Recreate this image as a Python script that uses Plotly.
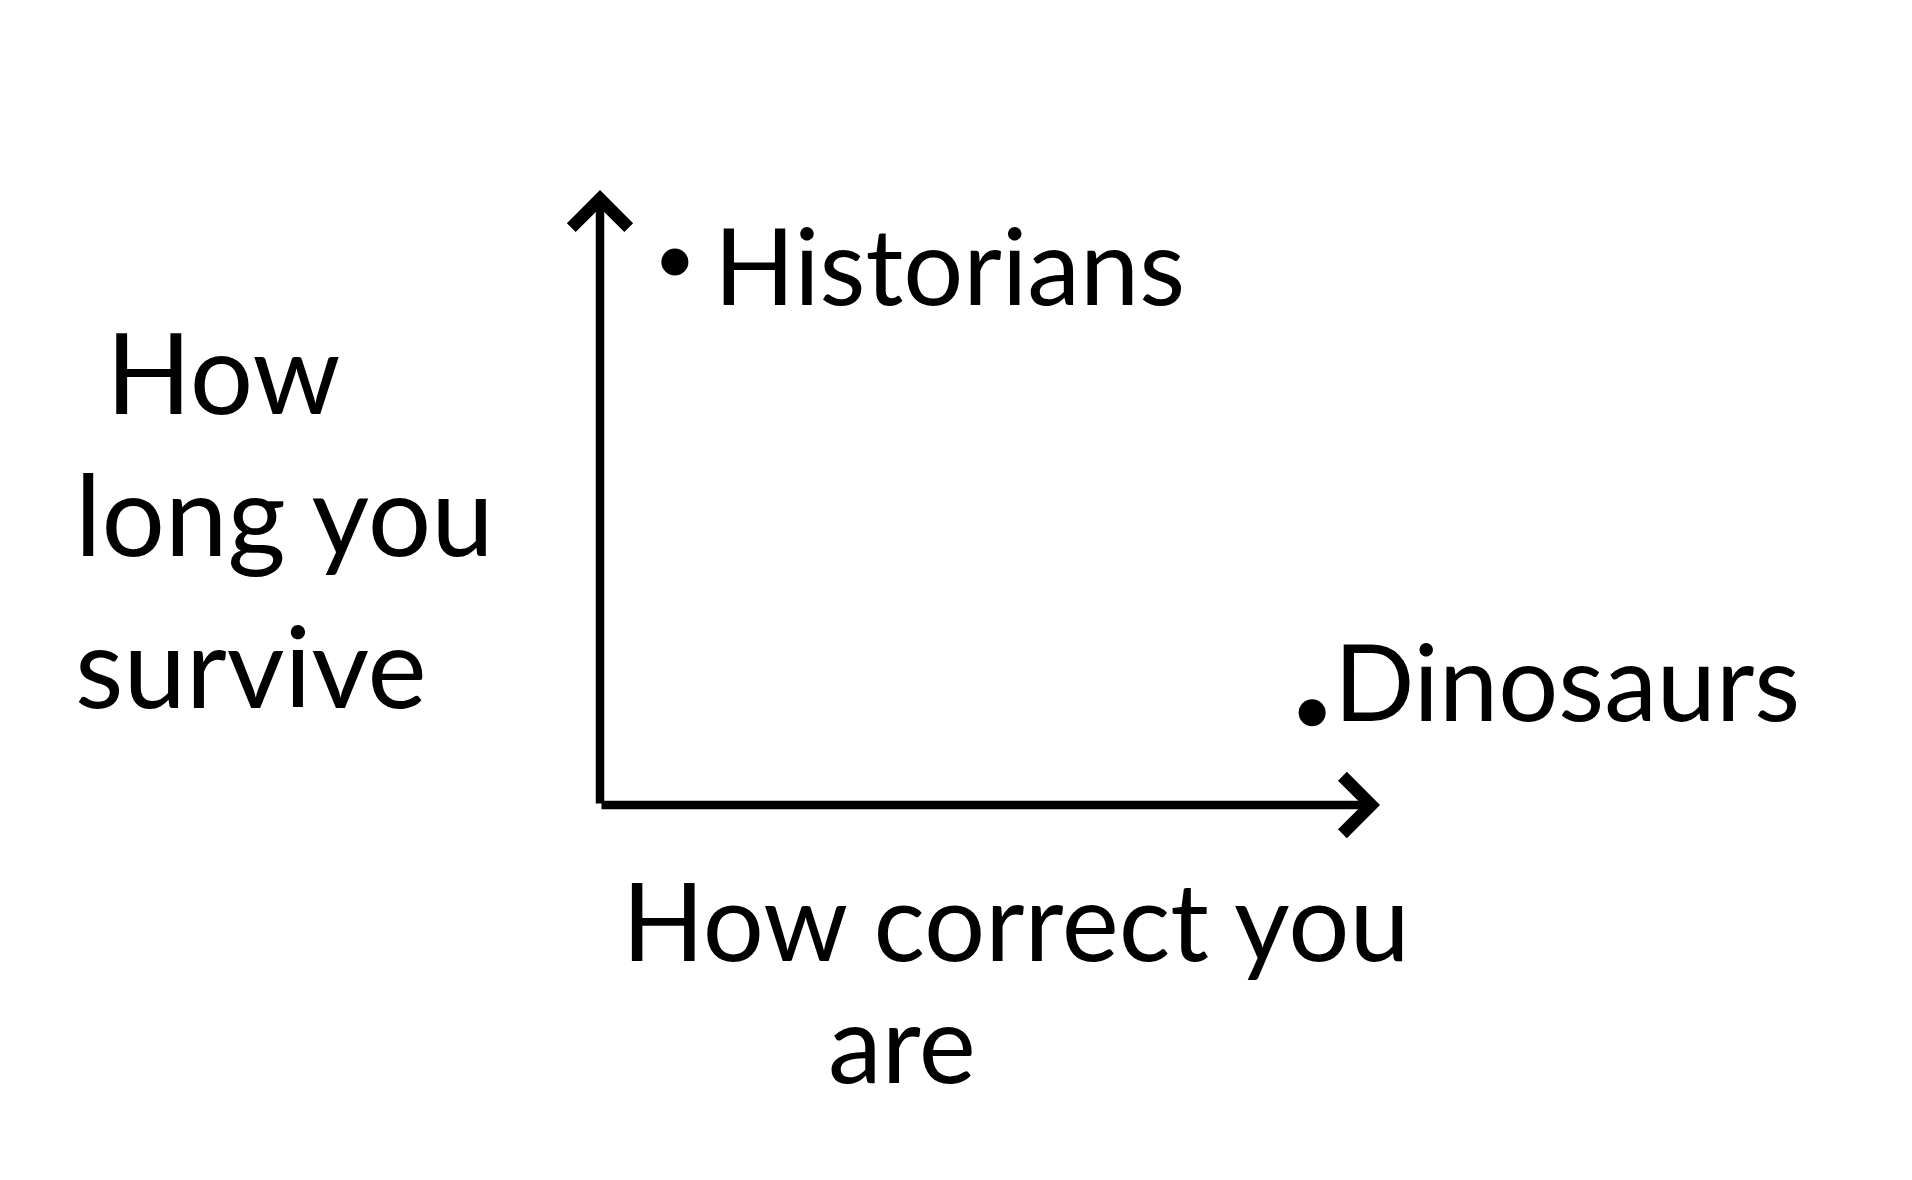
import plotly.graph_objects as go

# Data
groups = ["Historians", "Dinosaurs"]
correctness = [0.096, 0.913]   # How correct you are (0..1)
survival = [0.883, 0.150]      # How long you survive (0..1)
label_xshift = [37, 20]
label_yshift = [-2, 33]

x_title_lines = ["How correct you", "are"]
x_title_pos = [(0.533, -0.186), (0.387, -0.384)]
y_title_lines = ["How", "long you", "survive"]
y_title_pos = [(-0.636, 0.707), (-0.676, 0.476), (-0.676, 0.228)]

FONT = "Lato"
INK = "#000000"

fig = go.Figure()

fig.add_trace(go.Scatter(
    x=correctness, y=survival, mode="markers",
    marker=dict(size=27, color=INK),
    hoverinfo="skip", showlegend=False,
))

annotations = []
for g, xv, yv, xs, ys in zip(groups, correctness, survival, label_xshift, label_yshift):
    annotations.append(dict(
        x=xv, y=yv, xref="x", yref="y", text=g, showarrow=False,
        xanchor="left", yanchor="middle", xshift=xs, yshift=ys,
        font=dict(family=FONT, size=106, color=INK),
    ))

# axis arrows
for (tx, ty) in [(1, 0), (0, 1)]:
    annotations.append(dict(
        x=tx, y=ty, ax=0, ay=0, xref="x", yref="y", axref="x", ayref="y",
        text="", showarrow=True, arrowhead=4, arrowsize=1.3, arrowwidth=8.5,
        arrowcolor=INK,
    ))

# axis titles (paper coords; the axis ranges map exactly onto the plot area)
for txt, (px, py) in zip(x_title_lines, x_title_pos):
    annotations.append(dict(
        x=px, y=py, xref="paper", yref="paper", text=txt, showarrow=False,
        xanchor="center", yanchor="middle",
        font=dict(family=FONT, size=108, color=INK),
    ))
for txt, (px, py) in zip(y_title_lines, y_title_pos):
    annotations.append(dict(
        x=px, y=py, xref="paper", yref="paper", text=txt, showarrow=False,
        xanchor="left", yanchor="middle",
        font=dict(family=FONT, size=112, color=INK),
    ))

fig.update_layout(
    width=1896, height=1164,
    margin=dict(l=592, r=524, t=182, b=367),
    paper_bgcolor="white", plot_bgcolor="white",
    xaxis=dict(range=[0, 1], visible=False, fixedrange=True),
    yaxis=dict(range=[0, 1], visible=False, fixedrange=True),
    annotations=annotations,
    showlegend=False,
)

fig.write_html("out.html")
